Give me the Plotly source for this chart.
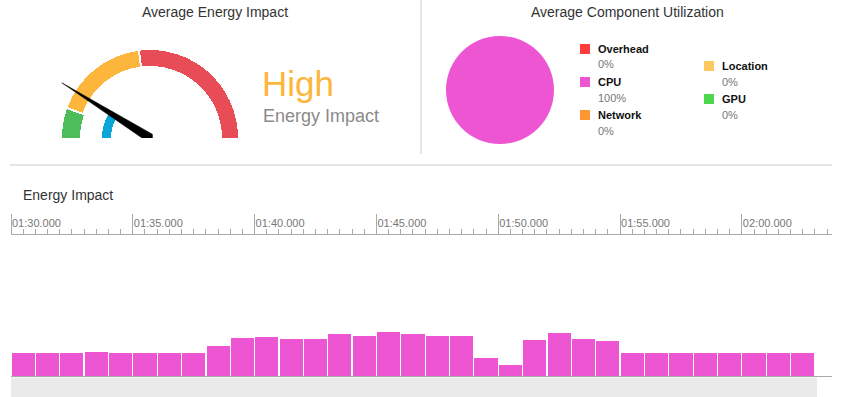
import plotly.graph_objects as go

W, H = 846, 397

# ---------------- data ----------------
# gauge (0..100 scale from left to right of the half dial)
gauge_bands = ["Low", "High", "Very High"]
gauge_start = [0.0, 11.4, 46.4]
gauge_end = [10.6, 45.6, 100.0]
inner_band_start = [0.0]
inner_band_end = [16.7]
needle_value = 17.8
impact_level = "High"
impact_caption = "Energy Impact"

# component utilization
components = ["Overhead", "CPU", "Network", "Location", "GPU"]
component_pct = [0, 100, 0, 0, 0]

# energy impact timeline (seconds from 01:30.000 onward, one bar per second)
bar_start_s = 90
bar_values = [9.8, 9.8, 9.8, 10.2, 9.8, 9.8, 9.8, 9.8, 12.8, 16.2, 16.6,
              15.7, 15.7, 17.9, 17.0, 18.7, 17.9, 17.0, 17.0, 7.7, 4.7,
              15.3, 18.3, 15.7, 14.9, 9.8, 9.8, 9.8, 9.8, 9.8, 9.8, 9.8, 9.8]
tick_seconds = [90, 95, 100, 105, 110, 115, 120]
tick_labels = ["01:30.000", "01:35.000", "01:40.000", "01:45.000",
               "01:50.000", "01:55.000", "02:00.000"]

# ---------------- styles ----------------
FONT = "Liberation Sans"
band_colors = ["#4DBD5B", "#FDB63B", "#E84C56"]
band_inner = [70, 72, 72]
band_outer = 88
inner_color = "#0AA6DA"
inner_r = (39, 48)
comp_colors = ["#FC3D3D", "#EE55D2", "#FD9731", "#FEC860", "#4FD64F"]
bar_color = "#EE55D2"


def px(x):
    return x / W


def py(y):
    return 1 - y / H


def v2deg(v):
    return 180 - v * 1.8


fig = go.Figure()

# ---- gauge ----
gauge_R = 106
cx, cy = 150, 138
for name, s, e, c, ri in zip(gauge_bands, gauge_start, gauge_end, band_colors, band_inner):
    fig.add_trace(go.Barpolar(
        r=[band_outer - ri], base=[ri], theta=[v2deg((s + e) / 2)],
        width=[(e - s) * 1.8], marker=dict(color=c, line=dict(width=0)),
        name=name, subplot="polar", showlegend=False, hoverinfo="name"))
for s, e in zip(inner_band_start, inner_band_end):
    fig.add_trace(go.Barpolar(
        r=[inner_r[1] - inner_r[0]], base=[inner_r[0]], theta=[v2deg((s + e) / 2)],
        width=[(e - s) * 1.8], marker=dict(color=inner_color, line=dict(width=0)),
        subplot="polar", showlegend=False, hoverinfo="skip"))
a = v2deg(needle_value)
fig.add_trace(go.Scatterpolar(
    r=[4.5, 104, 4.5, 3, 4.5], theta=[a - 90, a, a + 90, a + 180, a - 90],
    mode="lines", fill="toself", fillcolor="black", line=dict(color="black", width=0.5),
    subplot="polar", showlegend=False, cliponaxis=False, hoverinfo="skip"))

# ---- pie ----
fig.add_trace(go.Pie(
    labels=components, values=component_pct, sort=False, direction="clockwise",
    marker=dict(colors=comp_colors, line=dict(width=0)),
    textinfo="none", showlegend=False,
    domain=dict(x=[px(446), px(554)], y=[py(144), py(36)])))

# ---- bars ----
xs = [bar_start_s + i + 0.5 for i in range(len(bar_values))]
fig.add_trace(go.Bar(x=xs, y=bar_values, width=0.95, marker=dict(color=bar_color, line=dict(width=0)),
                     showlegend=False, xaxis="x", yaxis="y"))

annotations = [
    dict(text="Average Energy Impact", x=px(215), y=py(12), font=dict(size=14, color="#333")),
    dict(text="Average Component Utilization", x=px(627), y=py(12), font=dict(size=14, color="#333")),
    dict(text=impact_level, x=px(260), y=py(84), xanchor="left", font=dict(size=35, color="#FDB63B")),
    dict(text=impact_caption, x=px(261), y=py(116), xanchor="left", font=dict(size=18, color="#8A8A8A")),
    dict(text="Energy Impact", x=px(21), y=py(195), xanchor="left", font=dict(size=14, color="#333")),
]
slots = [(580, 49), (580, 82), (580, 115), (704, 66), (704, 99)]
shapes = []
for name, pct, col, (sx, sy) in zip(components, component_pct, comp_colors, slots):
    shapes.append(dict(type="rect", xref="paper", yref="paper", x0=px(sx), x1=px(sx + 10),
                       y0=py(sy + 5), y1=py(sy - 5), fillcolor=col, line=dict(width=0)))
    annotations.append(dict(text="<b>%s</b>" % name, x=px(sx + 16), y=py(sy), xanchor="left",
                            font=dict(size=11, color="#111")))
    annotations.append(dict(text="%d%%" % pct, x=px(sx + 16), y=py(sy + 15.5), xanchor="left",
                            font=dict(size=11, color="#777")))
for an in annotations:
    an.update(xref="paper", yref="paper", showarrow=False, yanchor="middle")
    an.setdefault("xanchor", "center")

shapes += [
    dict(type="line", xref="paper", yref="paper", x0=px(10), x1=px(832), y0=py(165), y1=py(165),
         line=dict(color="#CCCCCC", width=1)),
    dict(type="line", xref="paper", yref="paper", x0=px(421), x1=px(421), y0=py(0), y1=py(154),
         line=dict(color="#CCCCCC", width=1)),
    dict(type="rect", xref="paper", yref="paper", x0=px(11), x1=px(817), y0=py(397), y1=py(377.5),
         fillcolor="#EAEAEA", line=dict(width=0), layer="below"),
]

fig.update_layout(
    width=W, height=H, margin=dict(l=0, r=0, t=0, b=0),
    paper_bgcolor="white", plot_bgcolor="white",
    font=dict(family=FONT, color="#333"),
    annotations=annotations, shapes=shapes, bargap=0,
    polar=dict(
        domain=dict(x=[px(cx - gauge_R), px(cx + gauge_R)], y=[py(cy), py(cy - gauge_R)]),
        sector=[0, 180], bgcolor="rgba(0,0,0,0)", barmode="overlay",
        radialaxis=dict(range=[0, gauge_R], visible=False, showgrid=False),
        angularaxis=dict(visible=False, showgrid=False, rotation=0, direction="counterclockwise"),
    ),
    xaxis=dict(
        domain=[px(11), px(832)], range=[90, 123.7], side="top", anchor="y",
        tickmode="array", tickvals=tick_seconds, ticktext=tick_labels,
        ticks="outside", ticklen=20, tickcolor="#AAAAAA", tickwidth=1,
        ticklabelposition="outside right", ticklabelstandoff=3,
        tickfont=dict(size=11, color="#777"),
        minor=dict(dtick=0.5, tick0=90, ticks="outside", ticklen=5, tickcolor="#AAAAAA", tickwidth=1),
        showline=True, linecolor="#AAAAAA", linewidth=1, mirror=True,
        showgrid=False, zeroline=False, fixedrange=True,
    ),
    yaxis=dict(domain=[py(376), py(235)], range=[0, 60], visible=False, fixedrange=True),
)

fig.write_html("out.html", config={"displayModeBar": False},
               post_script="document.body.style.margin='0px';document.body.style.padding='0px';")
